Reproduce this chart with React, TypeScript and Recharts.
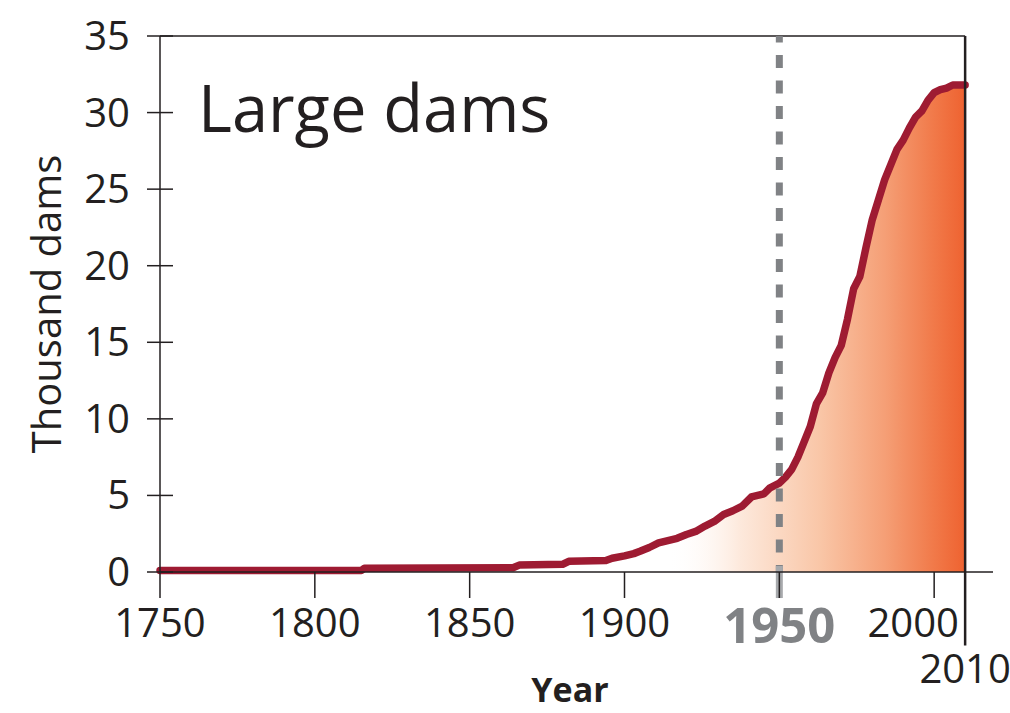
import { AreaChart, Area, XAxis, YAxis, ReferenceLine, Label } from "recharts";

// dam count (thousands)
const years = [
  1750, 1815, 1816, 1864, 1866, 1880, 1882, 1894, 1896, 1900, 1903, 1905, 1908, 1911, 1914,
  1917, 1920, 1923, 1926, 1929, 1932, 1935, 1938, 1941, 1943, 1945, 1947, 1950, 1952, 1954,
  1956, 1958, 1960, 1962, 1964, 1966, 1968, 1970, 1972, 1974, 1976, 1978, 1980, 1982, 1984,
  1986, 1988, 1990, 1992, 1994, 1996, 1998, 2000, 2002, 2004, 2006, 2008, 2010,
];
const dams = [
  0.1, 0.1, 0.25, 0.28, 0.45, 0.5, 0.7, 0.75, 0.9, 1.05, 1.2, 1.35, 1.6, 1.9, 2.05,
  2.2, 2.45, 2.65, 3.0, 3.3, 3.75, 4.0, 4.3, 4.9, 5.0, 5.1, 5.5, 5.8, 6.2, 6.7,
  7.5, 8.5, 9.5, 11.0, 11.7, 13.0, 14.0, 14.8, 16.5, 18.5, 19.3, 21.2, 23.0, 24.3, 25.6,
  26.6, 27.6, 28.2, 29.0, 29.7, 30.1, 30.8, 31.3, 31.5, 31.6, 31.8, 31.8, 31.8,
];
const xTicks = [1750, 1800, 1850, 1900, 1950, 2000, 2010];
const yTicks = [0, 5, 10, 15, 20, 25, 30, 35];

const data = years.map((year, i) => ({ year, dams: dams[i] }));

const INK = "#231f20";
const RED = "#9e1b32";
const GRAY = "#808285";
const FONT = "'Open Sans', sans-serif";

function XTick({ x, y, payload }: any) {
  const v = payload.value;
  if (v === 1950) {
    return (
      <text x={x} y={y} dy={41} textAnchor="middle" fill={GRAY} fontWeight={700} fontSize={49} fontFamily={FONT}>
        {v}
      </text>
    );
  }
  if (v === 2010) {
    return (
      <text x={x} y={y} dy={81} textAnchor="middle" fill={INK} fontSize={40} fontFamily={FONT}>
        {v}
      </text>
    );
  }
  // 2000 is nudged left so it clears the 2010 rule
  const shift = v === 2000 ? -21 : 0;
  return (
    <text x={x + shift} y={y} dy={35} textAnchor="middle" fill={INK} fontSize={40} fontFamily={FONT}>
      {v}
    </text>
  );
}

function YTick({ x, y, payload }: any) {
  return (
    <g>
      <line x1={x + 17} x2={x + 43} y1={y} y2={y} stroke={INK} strokeWidth={1.5} />
      <text x={x} y={y} dy={14} textAnchor="end" fill={INK} fontSize={40} fontFamily={FONT}>
        {payload.value}
      </text>
    </g>
  );
}

export default function App() {
  return (
    <div style={{ position: "absolute", left: 0, top: 0, width: 1010, height: 713, background: "#fff" }}>
      <div
        style={{
          position: "absolute",
          left: 198,
          top: 75,
          fontFamily: FONT,
          fontSize: 65,
          lineHeight: "65px",
          color: INK,
          whiteSpace: "nowrap",
        }}
      >
        Large dams
      </div>
      <AreaChart
        width={1010}
        height={713}
        data={data}
        margin={{ top: 36, right: 17, left: 100, bottom: 0 }}
        style={{ fontFamily: FONT }}
      >
        <defs>
          <linearGradient id="damFill" x1="0" y1="0" x2="1" y2="0">
            <stop offset="0.63" stopColor="#ffffff" stopOpacity={0} />
            <stop offset="0.72" stopColor="#fde9dc" />
            <stop offset="0.82" stopColor="#f9c6a7" />
            <stop offset="0.9" stopColor="#f59f76" />
            <stop offset="0.96" stopColor="#f17a4a" />
            <stop offset="1" stopColor="#ee6230" />
          </linearGradient>
        </defs>
        <XAxis
          dataKey="year"
          type="number"
          domain={[1750, 2019]}
          ticks={xTicks}
          interval={0}
          height={141}
          tickSize={26}
          tickMargin={4}
          axisLine={{ stroke: INK, strokeWidth: 1.5 }}
          tickLine={{ stroke: INK, strokeWidth: 1.5 }}
          tick={<XTick />}
        >
          <Label
            content={({ viewBox }: any) => (
              <text
                x={viewBox.x + 410}
                y={viewBox.y + 130}
                textAnchor="middle"
                fill={INK}
                fontWeight={700}
                fontSize={34}
                fontFamily={FONT}
              >
                Year
              </text>
            )}
          />
        </XAxis>
        <YAxis
          type="number"
          domain={[0, 35]}
          ticks={yTicks}
          interval={0}
          width={60}
          tickSize={13}
          tickMargin={17}
          axisLine={{ stroke: INK, strokeWidth: 1.5 }}
          tickLine={false}
          tick={<YTick />}
        >
          <Label
            content={({ viewBox }: any) => {
              const cx = viewBox.x - 55;
              const cy = viewBox.y + viewBox.height / 2;
              return (
                <text
                  x={cx}
                  y={cy}
                  transform={`rotate(-90, ${cx}, ${cy})`}
                  textAnchor="middle"
                  dominantBaseline="central"
                  fill={INK}
                  fontSize={40}
                  fontFamily={FONT}
                >
                  Thousand dams
                </text>
              );
            }}
          />
        </YAxis>
        <ReferenceLine
          segment={[{ x: 1750, y: 35 }, { x: 2010, y: 35 }]}
          stroke={INK}
          strokeWidth={1.5}
          ifOverflow="visible"
        />
        <Area
          type="linear"
          dataKey="dams"
          stroke="none"
          fill="url(#damFill)"
          fillOpacity={1}
          isAnimationActive={false}
          dot={false}
          activeDot={false}
        />
        <ReferenceLine
          segment={[{ x: 1950, y: 35 }, { x: 1950, y: 0 }]}
          stroke={GRAY}
          strokeWidth={7}
          strokeDasharray="13 12.5"
          strokeDashoffset={6.5}
          ifOverflow="visible"
        />
        <ReferenceLine
          segment={[{ x: 1950, y: 0.39 }, { x: 1950, y: -1.7 }]}
          stroke="#a7a9ac"
          strokeWidth={7}
          ifOverflow="visible"
        />
        <ReferenceLine
          segment={[{ x: 2010, y: -4.8 }, { x: 2010, y: 35 }]}
          stroke={INK}
          strokeWidth={2.5}
          ifOverflow="visible"
        />
        <Area
          type="linear"
          dataKey="dams"
          stroke={RED}
          strokeWidth={7.5}
          strokeLinecap="round"
          strokeLinejoin="round"
          fill="none"
          isAnimationActive={false}
          dot={false}
          activeDot={false}
        />
      </AreaChart>
    </div>
  );
}
